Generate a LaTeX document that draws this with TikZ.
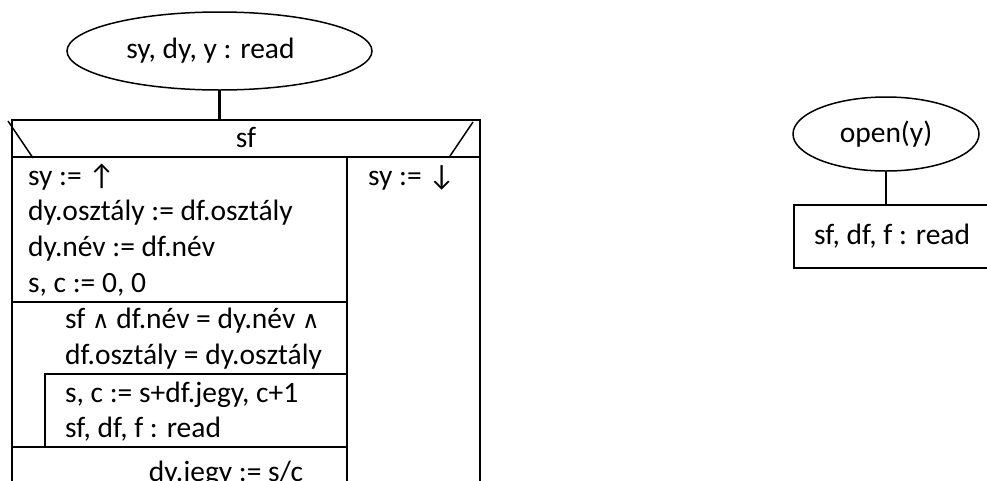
\documentclass[tikz,border=0pt]{standalone}
\usepackage{fontspec}
\setmainfont{Carlito}
\newfontfamily\symfont{DejaVu Sans}
\newcommand\landsym{{\symfont\fontsize{24}{24}\selectfont ∧}}
\usetikzlibrary{shapes.geometric}
\begin{document}
\begin{tikzpicture}[x=1pt,y=-1pt, line width=2.2pt,
  font=\fontsize{29.5}{35}\selectfont,
  txt/.style={anchor=base west, inner sep=0pt},
  ctxt/.style={anchor=base, inner sep=0pt},
  oval/.style={ellipse, draw, line width=1.5pt, inner sep=0pt},
  frame/.style={line width=2.2pt}]
\useasboundingbox (0,0) rectangle (987,480);
\clip (0,0) rectangle (987,480);

% top ellipse
\node[oval, minimum width=305pt, minimum height=78pt] (e1) at (219.5,51) {\hspace*{-18pt}sy, dy, y : read};
\coordinate (ftop) at (219.5,120);
\draw[frame] (e1.south) -- (ftop);

% outer frame
\draw[frame] (12,500) -- (12,120) -- (480,120) -- (480,500);
\draw[frame] (12,157) -- (480,157);
\draw[line width=1.5pt] (8,121) -- (33,158);
\draw[line width=1.5pt] (473,122) -- (450,156);
\node[ctxt] (sf) at (246,147) {sf};

% divider
\draw[frame] (347,157) -- (347,500);
\node[txt] (r1) at (367,185) {sy := ↓};

% left column
\node[txt] (l1) at (27,185) {sy := ↑};
\node[txt] (l2) at (27,220) {dy.osztály := df.osztály};
\node[txt] (l3) at (27,256) {dy.név := df.név};
\node[txt] (l4) at (27,292) {s, c := 0, 0};
\draw[frame] (12,302) -- (347,302);
\node[txt] (c1) at (64,328) {sf \landsym\ df.név = dy.név \landsym};
\node[txt] (c2) at (64,364) {df.osztály = dy.osztály};
\draw[frame] (45,447) -- (45,374) -- (347,374);
\node[txt] (b1) at (64,402) {s, c := s+df.jegy, c+1};
\node[txt] (b2) at (64,437) {sf, df, f : read};
\draw[frame] (12,447) -- (347,447);
\node[ctxt] (j) at (226,481) {dy.jegy := s/c};

% right part
\node[oval, minimum width=186pt, minimum height=74pt] (e2) at (886,134) {open(y)};
\node[draw, frame, anchor=north west, minimum width=196pt, minimum height=63pt, inner sep=0pt] (rb) at (793,204) {sf, df, f : read};
\draw[frame] (e2.south) -- (e2.south |- rb.north);
\end{tikzpicture}
\end{document}
